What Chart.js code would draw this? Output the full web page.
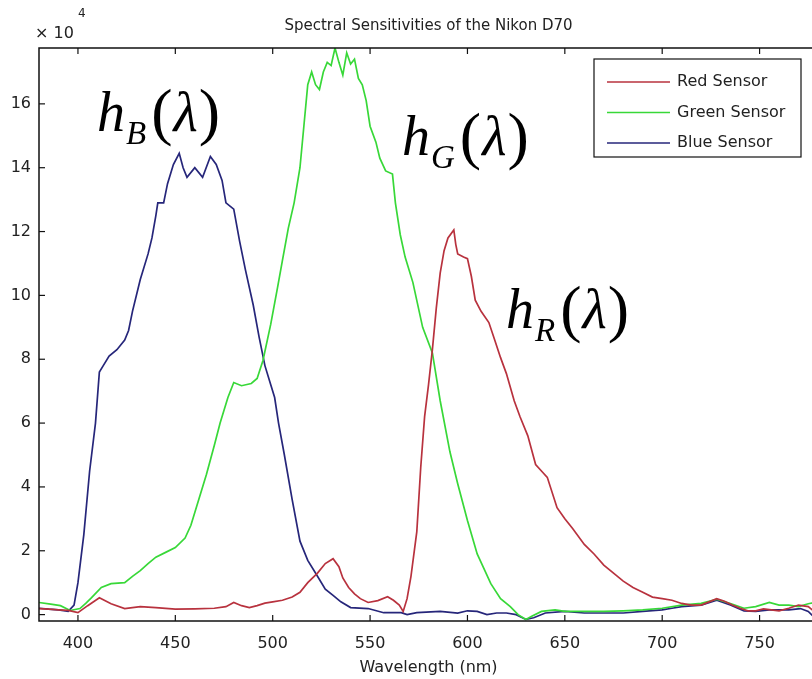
<!DOCTYPE html>
<html>
<head>
<meta charset="utf-8">
<title>Spectral Sensitivities of the Nikon D70</title>
<script src="https://cdn.jsdelivr.net/npm/chart.js@4.4.0/dist/chart.umd.min.js"></script>
<style>
    html, body { margin: 0; padding: 0; background: #fff; }
    #wrap { width: 812px; height: 679px; overflow: hidden; position: relative; }
    canvas { display: block; }
</style>
</head>
<body>
<div id="wrap"><canvas id="chart" width="830" height="679"></canvas></div>
<script>
// sensor responses, [wavelength nm, value x 10^4]
const redSensor = [
    [380, 0.19], [385, 0.17], [390, 0.15], [395, 0.13], [400, 0.06], [405, 0.28], [411, 0.53], [417, 0.34],
    [424, 0.19], [432, 0.25], [440, 0.22], [450, 0.17], [460, 0.18], [470, 0.2], [476, 0.25], [480, 0.38],
    [484, 0.28], [488, 0.22], [492, 0.28], [496, 0.36], [500, 0.4], [505, 0.45], [510, 0.55], [514, 0.7],
    [518, 1.0], [523, 1.3], [527, 1.6], [531, 1.75], [534, 1.5], [536, 1.15], [539, 0.85], [542, 0.65],
    [545, 0.5], [549, 0.38], [554, 0.44], [559, 0.56], [562, 0.45], [565, 0.3], [567, 0.1], [569, 0.5],
    [571, 1.2], [574, 2.6], [576, 4.6], [578, 6.2], [580, 7.2], [582, 8.3], [584, 9.6], [586, 10.7],
    [588, 11.4], [590, 11.8], [593, 12.05], [594, 11.6], [595, 11.3], [598, 11.2], [600, 11.15], [602, 10.6],
    [604, 9.85], [607, 9.5], [611, 9.15], [614, 8.6], [617, 8.05], [620, 7.55], [624, 6.7], [627, 6.2],
    [631, 5.6], [635, 4.7], [638, 4.5], [641, 4.3], [646, 3.35], [650, 3.0], [654, 2.7], [660, 2.2],
    [665, 1.9], [670, 1.55], [675, 1.3], [680, 1.05], [685, 0.85], [690, 0.7], [695, 0.55], [700, 0.5],
    [705, 0.45], [710, 0.35], [715, 0.3], [720, 0.3], [724, 0.4], [728, 0.5], [732, 0.42], [736, 0.3],
    [740, 0.2], [744, 0.12], [748, 0.12], [752, 0.18], [756, 0.15], [760, 0.12], [765, 0.2], [770, 0.3],
    [775, 0.25], [778, 0.1], [780, -0.2]
];
const greenSensor = [
    [380, 0.38], [386, 0.33], [391, 0.28], [396, 0.13], [401, 0.19], [404, 0.35], [407, 0.53], [412, 0.85],
    [417, 0.97], [424, 1.0], [428, 1.2], [432, 1.38], [436, 1.6], [440, 1.8], [445, 1.95], [450, 2.1],
    [455, 2.4], [458, 2.8], [462, 3.6], [466, 4.4], [470, 5.3], [473, 6.0], [477, 6.8], [480, 7.27],
    [484, 7.17], [489, 7.24], [492, 7.4], [495, 7.96], [499, 9.1], [502.5, 10.25], [505, 11.1], [508, 12.1],
    [511, 12.9], [514, 14.0], [516, 15.3], [518, 16.6], [520, 17.0], [522, 16.6], [524, 16.45], [526, 17.0],
    [528, 17.3], [530, 17.2], [532, 17.75], [534, 17.3], [536, 16.9], [538, 17.6], [540, 17.25], [542, 17.4],
    [544, 16.8], [546, 16.6], [548, 16.1], [550, 15.3], [553, 14.8], [555, 14.3], [558, 13.9], [561.5, 13.8],
    [563, 12.9], [565.5, 11.9], [568, 11.2], [572, 10.4], [577, 9.0], [582, 8.2], [586, 6.7], [591, 5.1],
    [595, 4.1], [600, 2.95], [605, 1.9], [612, 0.97], [617, 0.5], [622, 0.25], [626, 0.0], [630, -0.15],
    [633, -0.05], [638, 0.1], [645, 0.15], [650, 0.1], [660, 0.1], [670, 0.1], [680, 0.12], [690, 0.15],
    [700, 0.2], [710, 0.3], [720, 0.35], [728, 0.48], [735, 0.35], [742, 0.2], [748, 0.25], [755, 0.38],
    [760, 0.3], [765, 0.3], [770, 0.25], [775, 0.34], [780, 0.4]
];
const blueSensor = [
    [380, 0.2], [385, 0.17], [390, 0.15], [395, 0.1], [398, 0.3], [400, 1.0], [403, 2.5], [406, 4.5],
    [409, 6.0], [411, 7.6], [413, 7.8], [416, 8.1], [420, 8.3], [424, 8.6], [426, 8.9], [428, 9.5],
    [432, 10.5], [436, 11.3], [438, 11.8], [440, 12.5], [441, 12.9], [444, 12.9], [446, 13.5], [449, 14.1],
    [452, 14.45], [454, 14.0], [456, 13.7], [460, 14.0], [464, 13.7], [468, 14.35], [471, 14.1], [474, 13.6],
    [476, 12.9], [480, 12.7], [483, 11.7], [486, 10.8], [490, 9.7], [493, 8.7], [496, 7.8], [499, 7.2],
    [501, 6.8], [503, 6.0], [506, 5.0], [510, 3.6], [514, 2.3], [518, 1.7], [523, 1.2], [527, 0.8],
    [531, 0.6], [535, 0.4], [540, 0.22], [549, 0.19], [557, 0.06], [566, 0.06], [569, 0.0], [574, 0.06],
    [586, 0.1], [595, 0.05], [600, 0.12], [605, 0.1], [610, 0.0], [615, 0.05], [620, 0.05], [625, 0.0],
    [630, -0.15], [634, -0.1], [640, 0.05], [650, 0.1], [660, 0.05], [670, 0.05], [680, 0.05], [690, 0.1],
    [700, 0.15], [705, 0.2], [710, 0.25], [720, 0.3], [728, 0.45], [735, 0.3], [742, 0.12], [748, 0.1],
    [755, 0.15], [765, 0.15], [771, 0.19], [775, 0.1], [780, -0.2]
];

const xTicks = [400, 450, 500, 550, 600, 650, 700, 750];
const yTicks = [0, 2, 4, 6, 8, 10, 12, 14, 16];
const seriesNames = ['Red Sensor', 'Green Sensor', 'Blue Sensor'];
const seriesColors = ['#b8323e', '#38d838', '#26267a'];
const curveLabels = [
    { sub: 'B', x: 97, y: 131 },
    { sub: 'G', x: 402, y: 155 },
    { sub: 'R', x: 506, y: 328 }
];

const FONT = '"DejaVu Sans", sans-serif';
const SERIF = '"Liberation Serif", "Times New Roman", serif';

function buildDataset(label, points, color) {
    return {
        label,
        data: points.map(([x, y]) => ({ x, y })),
        borderColor: color,
        backgroundColor: color,
        borderWidth: 1.7,
        pointRadius: 0,
        tension: 0,
        fill: false
    };
}

function line(ctx, x1, y1, x2, y2) {
    ctx.beginPath();
    ctx.moveTo(x1, y1);
    ctx.lineTo(x2, y2);
    ctx.stroke();
}

// h_X(λ) written the way an equation editor would set it
function drawMathLabel(ctx, x, baseline, sub) {
    ctx.fillStyle = '#000';
    ctx.textBaseline = 'alphabetic';
    ctx.textAlign = 'left';
    ctx.font = 'italic 56px ' + SERIF;
    ctx.fillText('h', x, baseline);
    x += ctx.measureText('h').width + 1;
    ctx.font = 'italic 33px ' + SERIF;
    ctx.fillText(sub, x, baseline + 13);
    x += ctx.measureText(sub).width + 5;
    ctx.font = '64px ' + SERIF;
    ctx.fillText('(', x, baseline + 2);
    x += ctx.measureText('(').width + 1;
    ctx.font = 'italic 56px ' + SERIF;
    ctx.fillText('λ', x, baseline);
    x += ctx.measureText('λ').width + 1;
    ctx.font = '64px ' + SERIF;
    ctx.fillText(')', x, baseline + 2);
}

const matlabFrame = {
    id: 'matlabFrame',
    beforeDraw(chart) {
        const ctx = chart.ctx;
        ctx.save();
        ctx.fillStyle = '#fff';
        ctx.fillRect(0, 0, chart.width, chart.height);
        ctx.restore();
    },
    afterDraw(chart) {
        const { ctx, chartArea: a, scales: { x, y } } = chart;
        ctx.save();

        // axes box with inward ticks
        ctx.strokeStyle = '#111';
        ctx.lineWidth = 1.5;
        ctx.strokeRect(a.left, a.top, a.right - a.left, a.bottom - a.top);
        ctx.lineWidth = 1.2;
        xTicks.forEach(v => {
            const px = x.getPixelForValue(v);
            line(ctx, px, a.bottom, px, a.bottom - 6);
            line(ctx, px, a.top, px, a.top + 6);
        });
        yTicks.forEach(v => {
            const py = y.getPixelForValue(v);
            line(ctx, a.left, py, a.left + 6, py);
            line(ctx, a.right, py, a.right - 6, py);
        });

        // title, exponent and x label
        const midX = (a.left + a.right) / 2;
        ctx.fillStyle = '#222';
        ctx.textBaseline = 'middle';
        ctx.textAlign = 'center';
        ctx.font = '15px ' + FONT;
        ctx.fillText('Spectral Sensitivities of the Nikon D70', midX, 26);
        ctx.font = '16px ' + FONT;
        ctx.fillText('Wavelength (nm)', midX, 668);
        ctx.textAlign = 'left';
        ctx.fillText('× 10', 35, 34);
        ctx.font = '12px ' + FONT;
        ctx.fillText('4', 78, 14);

        // legend box
        const box = { left: 594, top: 59, right: 801, bottom: 157 };
        ctx.fillStyle = '#fff';
        ctx.fillRect(box.left, box.top, box.right - box.left, box.bottom - box.top);
        ctx.strokeStyle = '#111';
        ctx.lineWidth = 1.2;
        ctx.strokeRect(box.left, box.top, box.right - box.left, box.bottom - box.top);
        ctx.font = '16px ' + FONT;
        chart.data.datasets.forEach((ds, i) => {
            const rowY = 82 + i * 30.5;
            ctx.strokeStyle = ds.borderColor;
            ctx.lineWidth = 1.6;
            line(ctx, 607, rowY, 670, rowY);
            ctx.fillStyle = '#222';
            ctx.fillText(ds.label, 677, rowY);
        });

        curveLabels.forEach(l => drawMathLabel(ctx, l.x, l.y, l.sub));
        ctx.restore();
    }
};

const tickFont = { family: FONT, size: 16 };

new Chart(document.getElementById('chart'), {
    type: 'line',
    data: {
        datasets: [
            buildDataset(seriesNames[0], redSensor, seriesColors[0]),
            buildDataset(seriesNames[1], greenSensor, seriesColors[1]),
            buildDataset(seriesNames[2], blueSensor, seriesColors[2])
        ]
    },
    options: {
        responsive: false,
        animation: false,
        devicePixelRatio: 1,
        layout: { padding: { top: 48, right: 12, left: 0, bottom: 0 } },
        plugins: {
            legend: { display: false },
            tooltip: { enabled: false },
            title: { display: false }
        },
        scales: {
            x: {
                type: 'linear',
                min: 380,
                max: 780,
                afterBuildTicks: scale => { scale.ticks = xTicks.map(value => ({ value })); },
                afterFit: scale => { scale.height = 58; },
                grid: { display: false, drawTicks: false },
                border: { display: false },
                ticks: { font: tickFont, color: '#222', padding: 13, maxRotation: 0, autoSkip: false }
            },
            y: {
                type: 'linear',
                min: -0.2,
                max: 17.75,
                afterBuildTicks: scale => { scale.ticks = yTicks.map(value => ({ value })); },
                afterFit: scale => { scale.width = 39; },
                grid: { display: false, drawTicks: false },
                border: { display: false },
                ticks: { font: tickFont, color: '#222', padding: 8, autoSkip: false }
            }
        }
    },
    plugins: [matlabFrame]
});
</script>
</body>
</html>
